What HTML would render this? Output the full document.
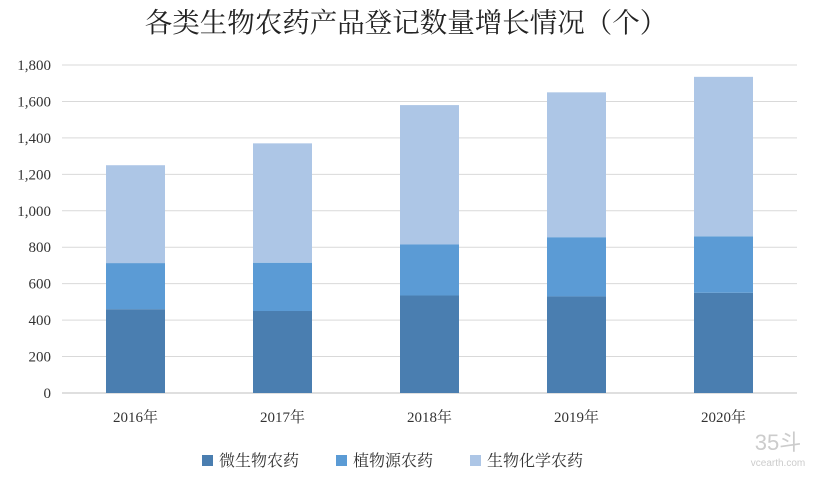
<!DOCTYPE html>
<html><head><meta charset="utf-8"><style>
body{margin:0;background:#fff;}
svg{display:block;font-family:"Liberation Serif","Noto Serif CJK SC",serif;}
</style></head><body>
<svg id="c" width="816" height="489">
<text x="406" y="32" text-anchor="middle" font-size="27.5" fill="#222" font-family="Noto Serif CJK SC, serif">各类生物农药产品登记数量增长情况（个）</text>
<g id="grid"></g><g id="bars"></g><g id="xl"></g>
<g font-size="16" fill="#333">
<g><rect x="202" y="455" width="11" height="11" fill="#4a7eb0"/><text x="219" y="466">微生物农药</text></g>
<g><rect x="336" y="455" width="11" height="11" fill="#5b9bd5"/><text x="353" y="466">植物源农药</text></g>
<g><rect x="470" y="455" width="11" height="11" fill="#adc6e6"/><text x="487" y="466">生物化学农药</text></g>
</g>
<text x="778" y="450" text-anchor="middle" font-size="22" fill="#ccc" font-family="Liberation Sans,sans-serif">35斗</text>
<text x="778" y="466" text-anchor="middle" font-size="10" fill="#ccc" font-family="Liberation Sans,sans-serif">vcearth.com</text>
</svg>
<script>
const categories=["2016年","2017年","2018年","2019年","2020年"];
const microbial=[460,450,535,530,550];
const plant=[253,265,280,325,310];
const biochemical=[537,655,765,795,875];
const ticks=[0,200,400,600,800,1000,1200,1400,1600,1800];
const ns="http://www.w3.org/2000/svg";
const x0=62,x1=797,y0=393,yTop=65,maxV=1800;
const y=v=>y0-(y0-yTop)*v/maxV;
const band=(x1-x0)/categories.length;
const xc=i=>x0+band*(i+0.5);
const bw=59;
function mk(t,a,p){const e=document.createElementNS(ns,t);for(const k in a)e.setAttribute(k,a[k]);p.appendChild(e);return e;}
const grid=document.getElementById('grid');
ticks.forEach(t=>{
 const l=mk('line',{x1:x0,x2:x1,y1:y(t),y2:y(t),stroke:t===0?'#bfbfbf':'#d9d9d9','stroke-width':1},grid);
 
 
 const tx=mk('text',{x:51,y:y(t)+5,'text-anchor':'end','font-size':15,fill:'#333'},grid);
 tx.textContent=t.toLocaleString('en-US');
 
 
});
const bars=document.getElementById('bars'),xl=document.getElementById('xl');
const series=[[microbial,'#4a7eb0','microbial'],[plant,'#5b9bd5','plant'],[biochemical,'#adc6e6','biochemical']];
categories.forEach((c,i)=>{
 let base=0;
 series.forEach(([arr,col,nm])=>{
  const v=arr[i];
  const r=mk('rect',{x:xc(i)-bw/2,y:y(base+v),width:bw,height:y(base)-y(base+v),fill:col},bars);
  
  
  base+=v;
 });
 const t=mk('text',{x:xc(i),y:422,'text-anchor':'middle','font-size':15,fill:'#333'},xl);
 t.textContent=c;
 
 
});
</script>
</body></html>
